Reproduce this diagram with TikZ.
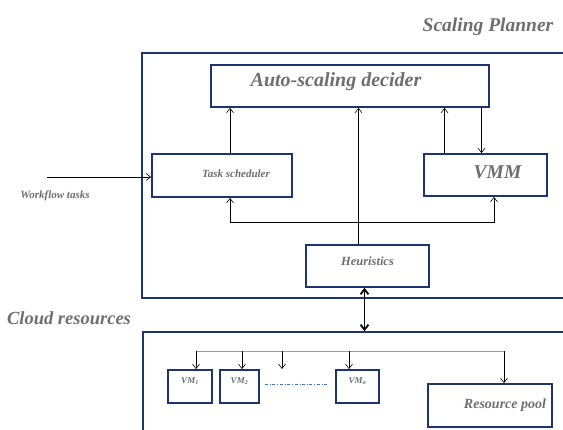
\documentclass[tikz,border=0pt]{standalone}
\usepackage{fontspec}
\setmainfont{Liberation Serif}
\usetikzlibrary{arrows.meta,calc}
\definecolor{azulMarco}{HTML}{1F3274}
\definecolor{grisTexto}{HTML}{6E6E6E}
\definecolor{azulBus}{HTML}{7F9FD8}
\definecolor{azulPunto}{HTML}{4472C4}

\begin{document}
\begin{tikzpicture}[x=1pt,y=-1pt,>={Straight Barb[length=4.5pt,width=7pt]},
    caja/.style={draw=azulMarco,line width=1.8pt,fill=white,inner sep=0pt},
    rotulo/.style={text=grisTexto,font=\bfseries\itshape},
    flecha/.style={->,line width=0.6pt}]
  \useasboundingbox (0,0) rectangle (563,429);
  \clip (0,0) rectangle (563,429);
  % contenedores
  \node[caja,fill=none,minimum width=438pt,minimum height=245pt] (planner) at (361,175.5) {};
  \node[caja,fill=none,minimum width=437pt,minimum height=108pt] (cloud) at (361.5,386) {};
  \node[rotulo,font=\fontsize{19.5}{19.5}\selectfont\bfseries\itshape] (tplanner) at (488,27) {Scaling Planner};
  \node[rotulo,font=\fontsize{18.5}{18.5}\selectfont\bfseries\itshape] (tcloud) at (69,318) {Cloud resources};
  % planificador
  \node[caja,minimum width=278pt,minimum height=42pt,
        label={[rotulo,font=\fontsize{20}{20}\selectfont\bfseries\itshape,xshift=-14pt,yshift=4pt]center:Auto-scaling decider}]
        (decider) at (350,86) {};
  \node[caja,minimum width=140pt,minimum height=43pt,
        label={[rotulo,font=\fontsize{11}{11}\selectfont\bfseries\itshape,xshift=14pt,yshift=1.5pt]center:Task scheduler}]
        (task) at (222,175.5) {};
  \node[caja,minimum width=123pt,minimum height=42pt,
        label={[rotulo,font=\fontsize{19.5}{19.5}\selectfont\bfseries\itshape,xshift=12pt,yshift=3pt]center:VMM}]
        (vmm) at (485.5,175) {};
  \node[caja,minimum width=123pt,minimum height=42pt,
        label={[rotulo,font=\fontsize{12.5}{12.5}\selectfont\bfseries\itshape,yshift=5pt]center:Heuristics}]
        (heur) at (367.5,266) {};
  \node[rotulo,font=\fontsize{11}{11}\selectfont\bfseries\itshape] (twf) at (55,196) {Workflow tasks};
  \coordinate (wf) at (47,177);
  \coordinate (hub) at (358.5,222);
  \coordinate (tsA) at ($(task.north)+(8,0)$);
  \coordinate (tsB) at ($(task.south)+(8,0)$);
  \coordinate (vmA) at ($(vmm.north)+(-41,0)$);
  \coordinate (vmB) at ($(vmm.south)+(8.5,0)$);
  \coordinate (dcA) at ($(decider.south)+(131.5,0)$);
  \coordinate (hrA) at ($(heur.south)+(-3,0)$);
  \draw[flecha] (wf) -- (wf -| task.west);
  \draw[flecha] (tsA) -- (tsA |- decider.south);
  \draw[flecha] (hub |- heur.north) -- (hub |- decider.south);
  \draw[flecha] (hub) -| (tsB);
  \draw[flecha] (hub) -| (vmB);
  \draw[flecha] (vmA) -- (vmA |- decider.south);
  \draw[flecha] (dcA) -- (dcA |- vmm.north);
  \draw[{Straight Barb[length=5pt,width=8pt]}-{Straight Barb[length=5pt,width=8pt]},line width=1.8pt]
    (hrA) -- (hrA |- cloud.north);
  % recursos
  \node[caja,minimum width=44pt,minimum height=33pt,
        label={[rotulo,font=\fontsize{9}{9}\selectfont\bfseries\itshape,yshift=5pt]center:VM\textsubscript{1}}]
        (vm1) at (190,386.5) {};
  \node[caja,minimum width=39pt,minimum height=33pt,
        label={[rotulo,font=\fontsize{9}{9}\selectfont\bfseries\itshape,yshift=5pt]center:VM\textsubscript{2}}]
        (vm2) at (239.5,386.5) {};
  \node[caja,minimum width=43pt,minimum height=33pt,
        label={[rotulo,font=\fontsize{9}{9}\selectfont\bfseries\itshape,yshift=5pt]center:VM\textsubscript{n}}]
        (vmn) at (357.5,386.5) {};
  \node[caja,minimum width=124pt,minimum height=43pt,
        label={[rotulo,font=\fontsize{14}{14}\selectfont\bfseries\itshape,xshift=15pt]center:Resource pool}]
        (pool) at (490,405.5) {};
  \coordinate (busL) at (196,351);
  \coordinate (busR) at (504,351);
  \coordinate (bus2) at (242,351);
  \coordinate (busN) at (349,351);
  \coordinate (libre) at (282,369);
  \draw[azulBus,line width=1pt] (busL) -- (busR);
  \draw[flecha] (busL) -- (busL |- vm1.north);
  \draw[flecha] (bus2) -- (bus2 |- vm2.north);
  \draw[flecha] (libre |- busL) -- (libre);
  \draw[flecha] (busN) -- (busN |- vmn.north);
  \draw[flecha] (busR) -- (busR |- pool.north);
  \draw[azulPunto,dash dot,line width=0.6pt,shorten <=5pt,shorten >=6pt]
    ($(vm2.east)+(0,-2.5)$) -- ($(vmn.west)+(0,-2.5)$);
\end{tikzpicture}
\end{document}
